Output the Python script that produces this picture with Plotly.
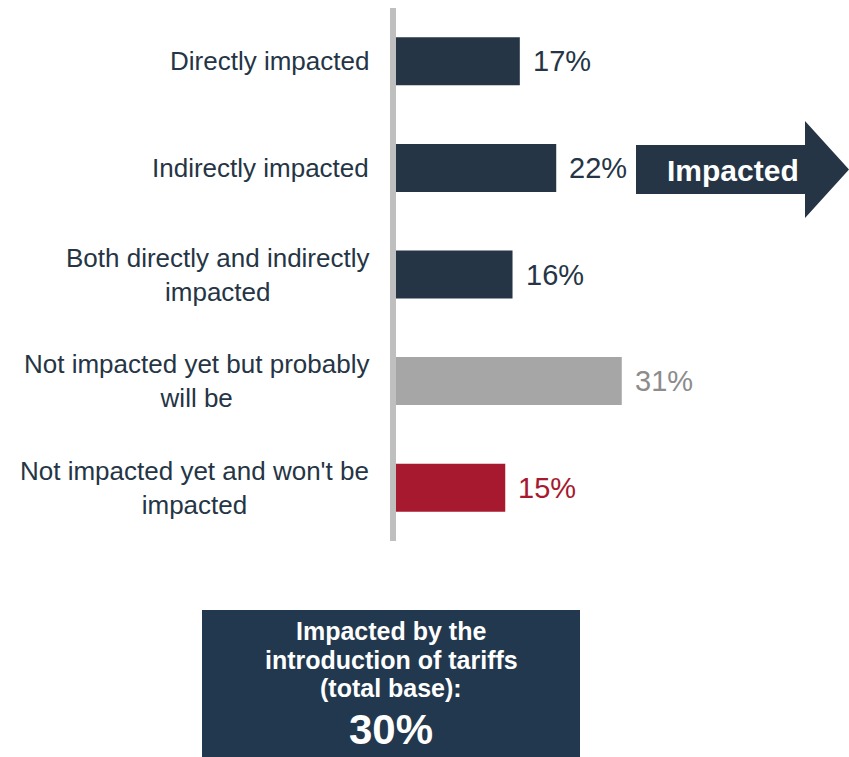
import plotly.graph_objects as go

# Survey responses: impact of tariffs on the business
categories = [
    "Directly impacted",
    "Indirectly impacted",
    "Both directly and indirectly<br>impacted",
    "Not impacted yet but probably<br>will be",
    "Not impacted yet and won't be<br>impacted",
]
values = [17, 22, 16, 31, 15]
value_labels = ["17%", "22%", "16%", "31%", "15%"]
bar_colors = ["#253545", "#253545", "#253545", "#a6a6a6", "#a6192e"]
label_colors = ["#253545", "#253545", "#253545", "#8c8c8c", "#a6192e"]

arrow_text = "Impacted"
summary_lines = ["Impacted by the", "introduction of tariffs", "(total base):"]
summary_value = "30%"

W, H = 849, 757
M_L, M_R, M_T, M_B = 396, 16, 8, 216
PLOT_W = W - M_L - M_R
PLOT_H = H - M_T - M_B

FONT = "Liberation Sans, Arial, sans-serif"
NAVY = "#253545"
BOX = "#22384e"


def px(x):
    """Horizontal pixel position -> paper coordinate."""
    return (x - M_L) / PLOT_W


def py(y):
    """Vertical pixel position (from top) -> paper coordinate."""
    return (H - M_B - y) / PLOT_H


fig = go.Figure(
    go.Bar(
        x=values,
        y=categories,
        orientation="h",
        width=0.45,
        marker=dict(color=bar_colors, line=dict(width=0)),
        hoverinfo="skip",
    )
)

annotations = []
# category labels, right-aligned block with centred lines
for cat in categories:
    annotations.append(dict(
        x=0, xref="paper", y=cat, yref="y",
        text=cat, showarrow=False,
        xanchor="right", yanchor="middle", align="center",
        xshift=-25,
        font=dict(family=FONT, size=26, color=NAVY),
    ))
# value labels next to bar ends
for cat, v, lab, col in zip(categories, values, value_labels, label_colors):
    annotations.append(dict(
        x=v, xref="x", y=cat, yref="y",
        text=lab, showarrow=False,
        xanchor="left", yanchor="middle",
        xshift=11,
        font=dict(family=FONT, size=29, color=col),
    ))

# "Impacted" arrow beside the impacted group
ax0, ax1, ax2 = px(636), px(805), px(849)
ay_top, ay_bot = py(145), py(194)
ah_top, ah_bot, a_mid = py(121), py(218), py(169.5)
arrow_path = (
    f"M {ax0},{ay_top} L {ax1},{ay_top} L {ax1},{ah_top} L {ax2},{a_mid} "
    f"L {ax1},{ah_bot} L {ax1},{ay_bot} L {ax0},{ay_bot} Z"
)
shapes = [
    dict(type="path", xref="paper", yref="paper", path=arrow_path,
         fillcolor=NAVY, line=dict(width=0), layer="above"),
    dict(type="rect", xref="paper", yref="paper",
         x0=px(202), x1=px(580), y0=py(610), y1=py(760),
         fillcolor=BOX, line=dict(width=0), layer="above"),
]
annotations.append(dict(
    x=px(733), xref="paper", y=py(171), yref="paper",
    text=f"<b>{arrow_text}</b>", showarrow=False,
    xanchor="center", yanchor="middle",
    font=dict(family=FONT, size=30, color="white"),
))

# summary box text
for i, line in enumerate(summary_lines):
    annotations.append(dict(
        x=px(391), xref="paper", y=py(631 + 28.5 * i), yref="paper",
        text=f"<b>{line}</b>", showarrow=False,
        xanchor="center", yanchor="middle",
        font=dict(family=FONT, size=25, color="white"),
    ))
annotations.append(dict(
    x=px(391), xref="paper", y=py(729), yref="paper",
    text=f"<b>{summary_value}</b>", showarrow=False,
    xanchor="center", yanchor="middle",
    font=dict(family=FONT, size=42, color="white"),
))

fig.update_layout(
    width=W, height=H,
    margin=dict(l=M_L, r=M_R, t=M_T, b=M_B, pad=0),
    paper_bgcolor="white", plot_bgcolor="white",
    showlegend=False,
    bargap=0.55,
    xaxis=dict(range=[0, 60], visible=False, fixedrange=True),
    yaxis=dict(
        categoryorder="array", categoryarray=categories,
        range=[4.5, -0.5],
        showticklabels=False, ticks="",
        showgrid=False, zeroline=False,
        showline=True, linecolor="#bfbfbf", linewidth=6,
        fixedrange=True,
    ),
    annotations=annotations,
    shapes=shapes,
)

fig.write_html("out.html")
